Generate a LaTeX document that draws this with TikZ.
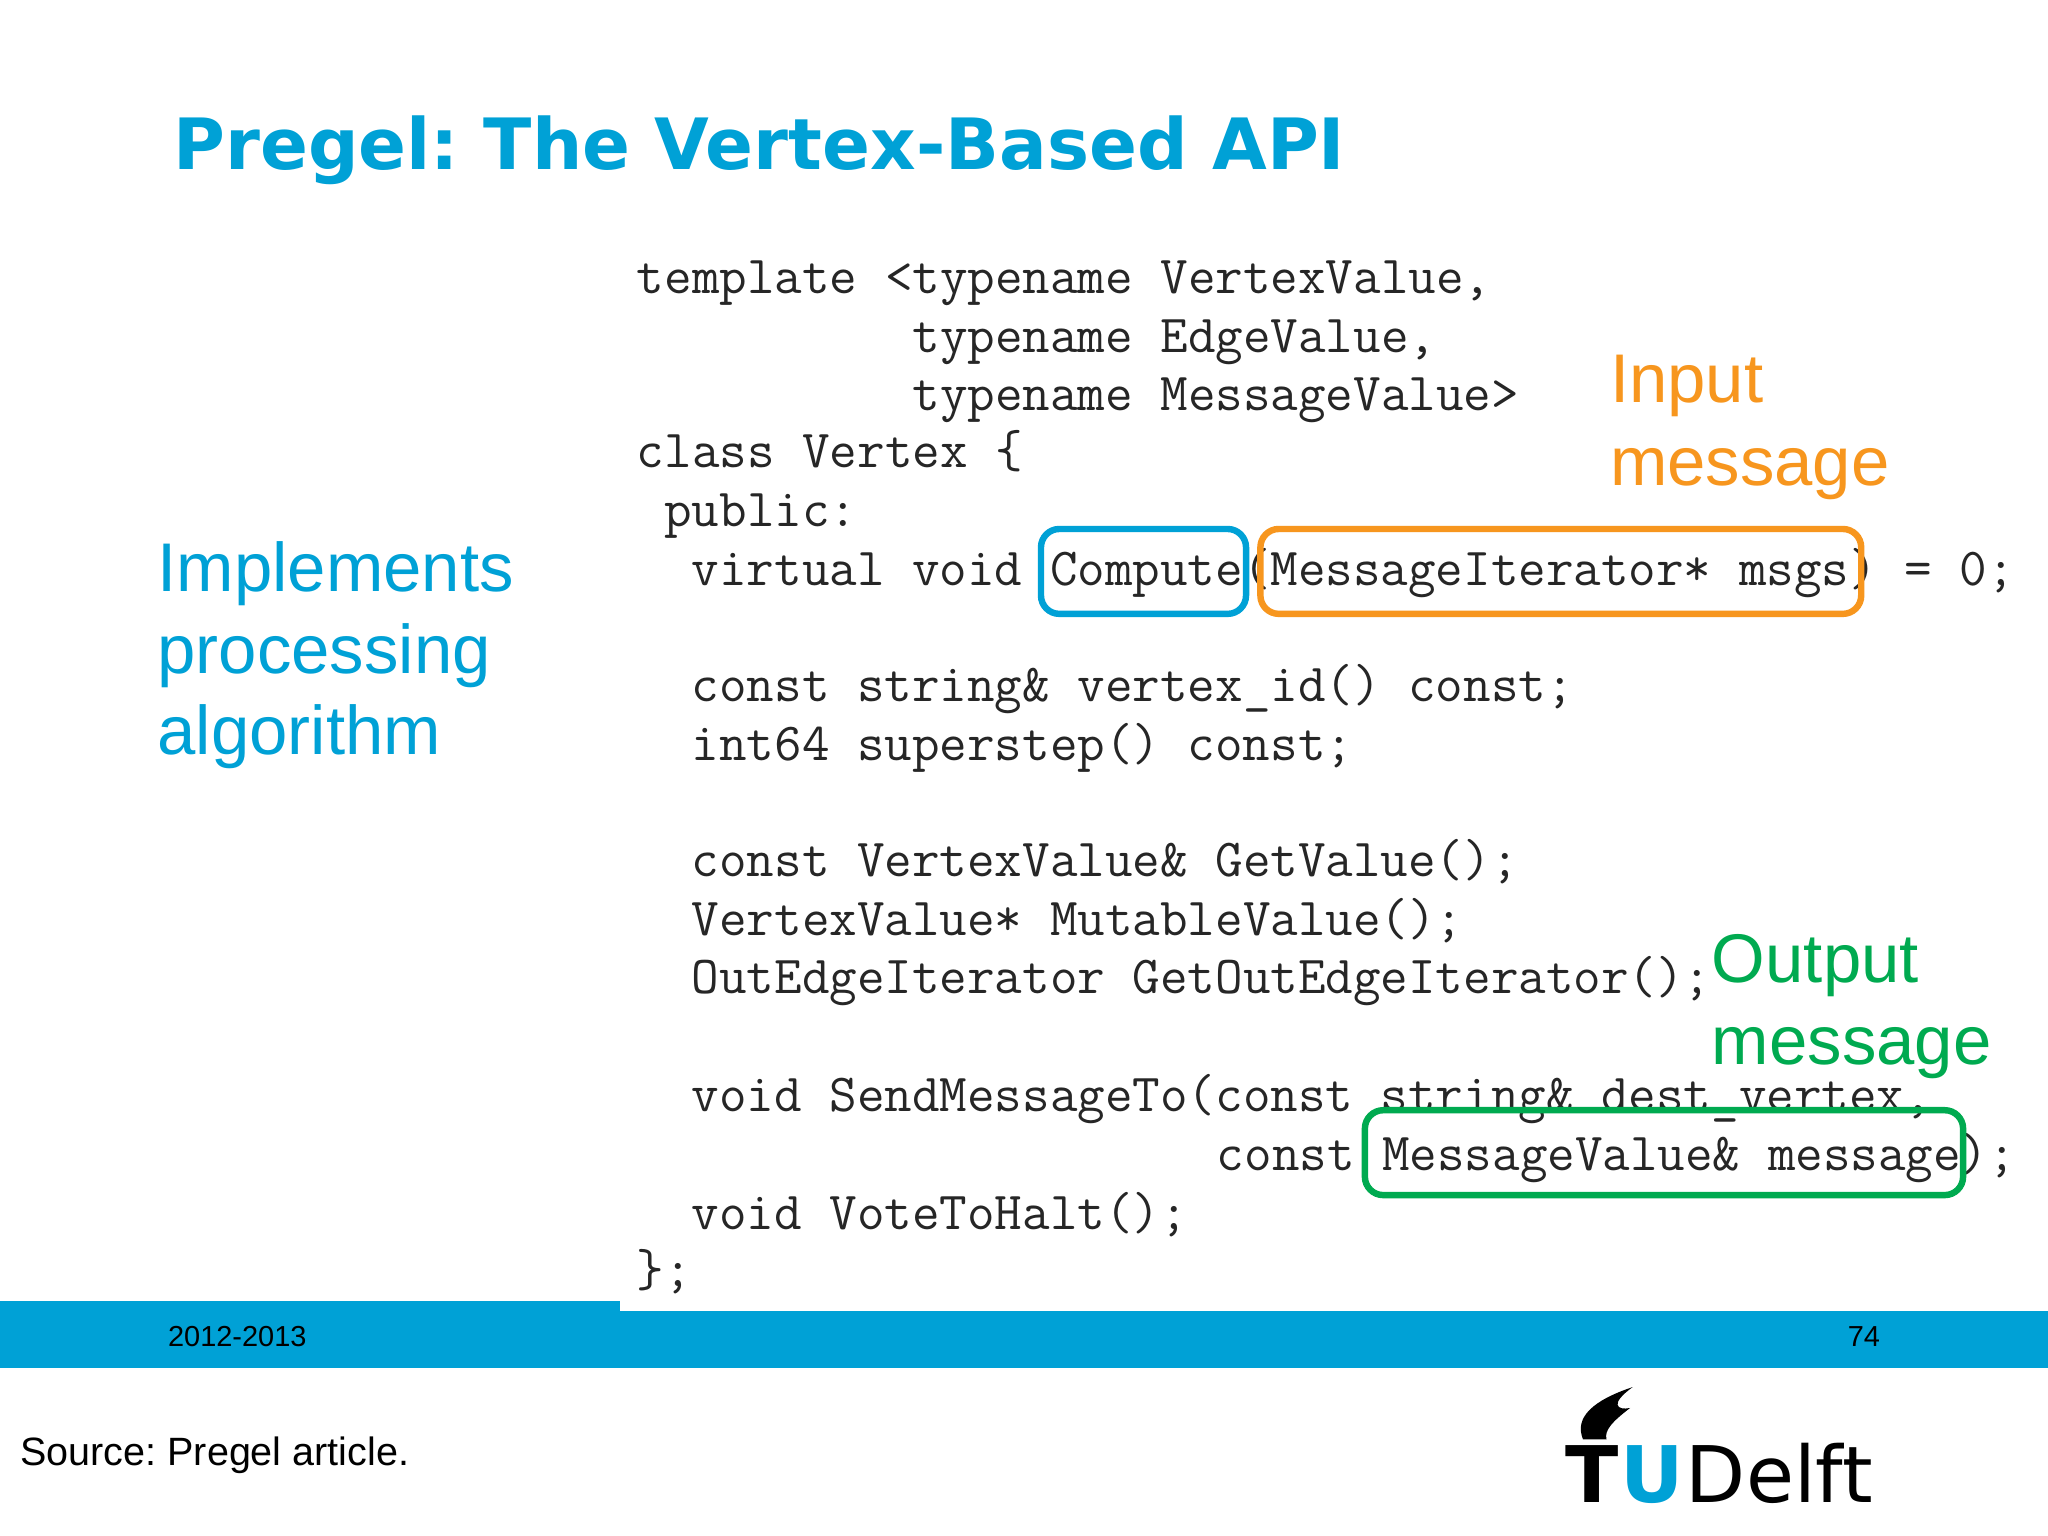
\documentclass[tikz,border=0pt]{standalone}
\usepackage{fontspec}
\newfontfamily\titlefont{DejaVu Sans}
\newfontfamily\labfont{Liberation Sans}
\definecolor{tublue}{RGB}{0,161,214}
\definecolor{inorange}{RGB}{247,150,30}
\definecolor{outgreen}{RGB}{0,170,80}
\frenchspacing
\tikzset{
  txt/.style={inner sep=0pt,anchor=base west},
  code/.style={txt,font=\fontsize{11.65}{13}\ttfamily,text=black!85},
  lab/.style={txt,font=\labfont\fontsize{15}{18}\selectfont},
  hl/.style={draw,line width=1.4pt,rounded corners=4pt}
}
\begin{document}
\begin{tikzpicture}[x=0.01cm,y=-0.01cm]
\useasboundingbox (0,0) rectangle (1568,1176);
\fill[white] (0,0) rectangle (1568,1176);
% title
\node[txt,font=\titlefont\bfseries\fontsize{15.4}{18}\selectfont,text=tublue] (title) at (132,130) {Pregel: The Vertex-Based API};
% code
\node[code] (c1) at (487,225) {template <typename VertexValue,};
\node[code] (c2) at (698,270) {typename EdgeValue,};
\node[code] (c3) at (698,314) {typename MessageValue>};
\node[code] (c4) at (487,358) {class Vertex \{};
\node[code] (c5) at (508,403) {public:};
\node[code] (c6) at (529,448) {virtual void Compute(MessageIterator* msgs) = 0;};
\node[code] (c7) at (529,537) {const string\& vertex\_id() const;};
\node[code] (c8) at (529,582) {int64 superstep() const;};
\node[code] (c9) at (529,671) {const VertexValue\& GetValue();};
\node[code] (c10) at (529,716) {VertexValue* MutableValue();};
\node[code] (c11) at (529,761) {OutEdgeIterator GetOutEdgeIterator();};
\node[code] (c12) at (529,851) {void SendMessageTo(const string\& dest\_vertex,};
\node[code] (c13) at (931,896) {const MessageValue\& message);};
\node[code] (c14) at (529,941) {void VoteToHalt();};
\node[code] (c15) at (487,985) {\};};
% highlight boxes
\draw[hl,tublue] (797,405) rectangle (954,470);
\draw[hl,inorange] (965,405) rectangle (1425,470);
\draw[hl,outgreen] (1045,850) rectangle (1503,915);
% labels
\node[lab,text=inorange] (in1) at (1232,308) {Input};
\node[lab,text=inorange] (in2) at (1232,372) {message};
\node[lab,text=outgreen] (out1) at (1310,752) {Output};
\node[lab,text=outgreen] (out2) at (1310,815) {message};
\node[lab,text=tublue] (l1) at (120,453) {Implements};
\node[lab,text=tublue] (l2) at (120,516) {processing};
\node[lab,text=tublue] (l3) at (120,578) {algorithm};
% footer band
\fill[tublue] (0,996) rectangle (475,1047);
\fill[tublue] (0,1004) rectangle (1568,1047);
\node[txt,font=\labfont\fontsize{6.3}{8}\selectfont] (yr) at (128,1031) {2012-2013};
\node[txt,font=\labfont\fontsize{6.3}{8}\selectfont] (pg) at (1414,1031) {74};
\node[txt,font=\labfont\fontsize{8.6}{11}\selectfont] (src) at (15,1122) {Source: Pregel article.};
% logo
\node[txt,font=\titlefont\bfseries\fontsize{17}{20}\selectfont] (lt) at (1198,1150) {T};
\node[txt,font=\titlefont\bfseries\fontsize{17}{20}\selectfont,text=tublue] (lu) at (lt.base east) {U};
\node[txt,font=\titlefont\fontsize{17}{20}\selectfont] (ld) at (lu.base east) {Delft};
\fill[black] (1212,1102) .. controls (1205,1085) and (1220,1072) .. (1250,1062)
  .. controls (1232,1075) and (1238,1080) .. (1248,1078)
  .. controls (1235,1088) and (1228,1095) .. (1230,1102) -- cycle;
\end{tikzpicture}
\end{document}
